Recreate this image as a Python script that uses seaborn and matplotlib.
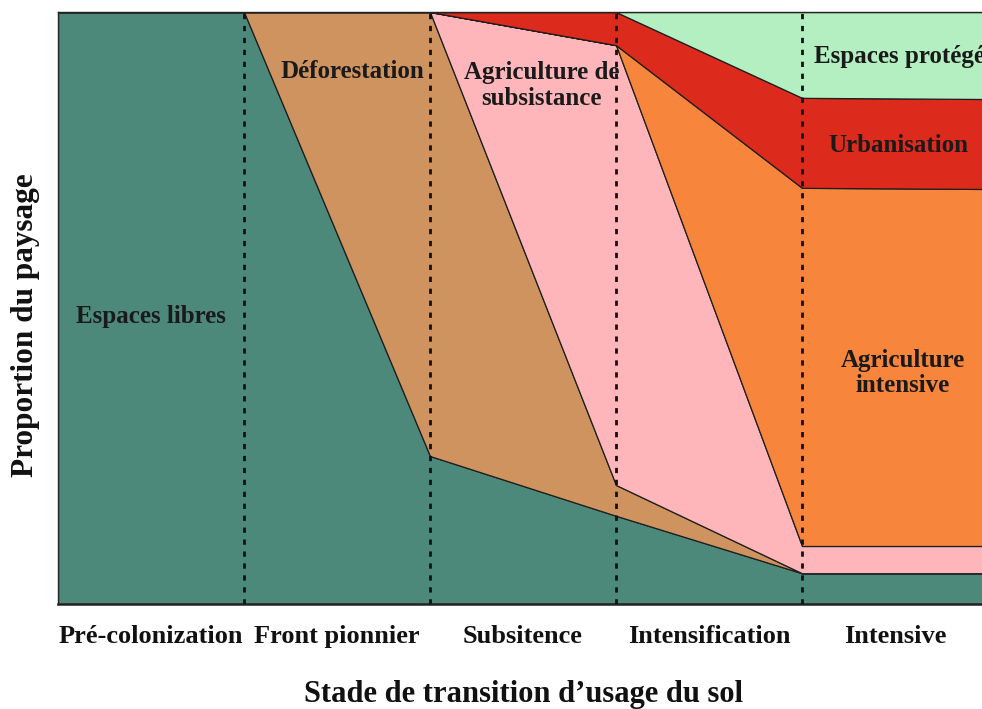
import numpy as np
import matplotlib
matplotlib.use("Agg")
import matplotlib.pyplot as plt
import seaborn as sns

# ---- data ----
stages = ["Pré-colonization", "Front pionnier", "Subsitence", "Intensification", "Intensive"]
boundaries = [0, 1, 2, 3, 4, 5]
espaces_libres = [1.00, 1.00, 0.25, 0.149, 0.052, 0.052]
deforestation = [0.00, 0.00, 0.75, 0.052, 0.0, 0.0]
agri_subsistance = [0.00, 0.00, 0.00, 0.743, 0.046, 0.046]
agri_intensive = [0.00, 0.00, 0.00, 0.000, 0.605, 0.603]
urbanisation = [0.00, 0.00, 0.00, 0.056, 0.152, 0.152]
espaces_proteges = [0.00, 0.00, 0.00, 0.000, 0.145, 0.147]
series_names = ["Espaces libres", "Déforestation", "Agriculture de\nsubsistance",
                "Agriculture\nintensive", "Urbanisation", "Espaces protégés"]
colors = ["#4d897a", "#cf935f", "#ffb6bb", "#f7853c", "#dc2a1d", "#b3efc0"]

sns.set_theme(style="white")
plt.rcParams["font.family"] = ["Liberation Serif", "DejaVu Serif"]
plt.rcParams["font.weight"] = "bold"

fig = plt.figure(figsize=(9.82, 7.09), dpi=100)
W, H = 982, 709
ax = fig.add_axes([58 / W, (H - 604) / H, 930 / W, 592 / H])

ax.stackplot(boundaries, espaces_libres, deforestation, agri_subsistance,
             agri_intensive, urbanisation, espaces_proteges,
             colors=colors, edgecolor="#1e1e1e", linewidth=0.9)

for b in boundaries[1:-1]:
    ax.axvline(b, color="#111111", lw=2.0, linestyle=(0, (1.9, 2.4)), zorder=5)

ax.set_xlim(boundaries[0], boundaries[-1])
ax.set_ylim(0, 1)

# labels in areas
label_pos = [(0.5, 0.485), (1.58, 0.899), (2.60, 0.876), (4.54, 0.39), (4.52, 0.774), (4.55, 0.924)]
for name, (lx, ly) in zip(series_names, label_pos):
    ax.text(lx, ly, name, ha="center", va="center", fontsize=18, fontweight="bold",
            color="#1a1a1a", linespacing=1.15, zorder=6)

centers = [(boundaries[i] + boundaries[i + 1]) / 2 for i in range(len(stages))]
ax.set_xticks(centers)
ax.set_xticklabels(stages, fontsize=19, fontweight="bold", color="#111111")
ax.tick_params(axis="x", which="major", length=0, pad=15)
ax.set_xticks(boundaries[1:-1], minor=True)
ax.tick_params(axis="x", which="minor", direction="in", length=4, width=1.5, color="#111111", bottom=True)
ax.set_yticks([])

ax.set_xlabel("Stade de transition d’usage du sol", fontsize=22, fontweight="bold",
              color="#111111", labelpad=23)
ax.set_ylabel("Proportion du paysage", fontsize=22.5, fontweight="bold", color="#111111", va="center")
ax.yaxis.set_label_coords((26 - 58) / 930, (604 - 325) / 592)

for side in ["left", "bottom", "top"]:
    ax.spines[side].set_visible(True)
    ax.spines[side].set_color("#222222")
ax.spines["left"].set_linewidth(1.0)
ax.spines["top"].set_linewidth(1.0)
ax.spines["bottom"].set_linewidth(1.8)
ax.spines["right"].set_visible(False)

fig.savefig("out.png", dpi=100)
